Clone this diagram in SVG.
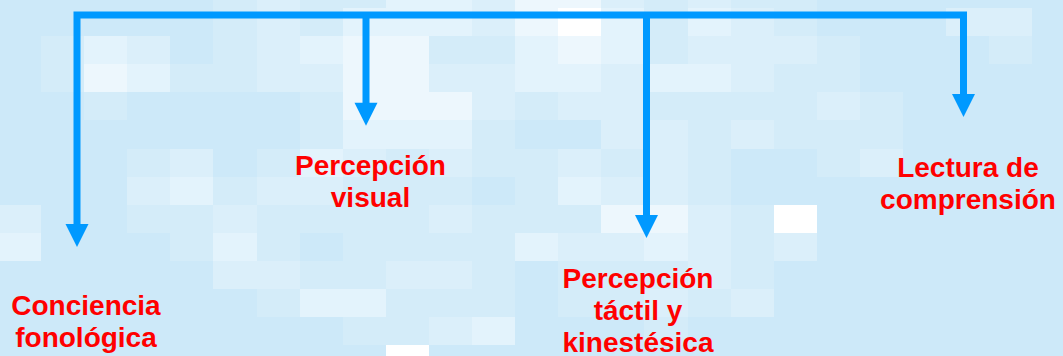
<svg xmlns="http://www.w3.org/2000/svg" width="1063" height="356" viewBox="0 0 1063 356">
<style>
.bg{fill:#cde9f9}
.a{fill:#d4ecf9}.b{fill:#dbeffa}.c{fill:#e3f3fc}.d{fill:#edf7fd}.e{fill:#ffffff}
#tiles rect{shape-rendering:crispEdges}
.ln{fill:none;stroke:#0099ff;stroke-width:7;stroke-linejoin:miter}
.hd{fill:#0099ff}
.lb{font-family:"Liberation Sans",Arial,sans-serif;font-weight:bold;font-size:28px;fill:#ff0000;text-anchor:middle}
</style>
<rect class="bg" x="0" y="0" width="1063" height="356"/>
<g id="tiles">
<!-- row -1 -->
<rect class="a" x="213" y="0" width="44" height="8"/><rect class="b" x="257" y="0" width="43" height="8"/><rect class="a" x="300" y="0" width="43" height="8"/><rect class="a" x="343" y="0" width="43" height="8"/><rect class="c" x="386" y="0" width="43" height="8"/><rect class="c" x="429" y="0" width="43" height="8"/><rect class="b" x="472" y="0" width="43" height="8"/><rect class="d" x="515" y="0" width="43" height="8"/><rect class="d" x="558" y="0" width="43" height="8"/><rect class="b" x="601" y="0" width="43" height="8"/><rect class="a" x="644" y="0" width="44" height="8"/><rect class="b" x="688" y="0" width="43" height="8"/><rect class="a" x="731" y="0" width="43" height="8"/><rect class="a" x="774" y="0" width="43" height="8"/>
<!-- row 0 -->
<rect class="a" x="213" y="8" width="44" height="28"/><rect class="b" x="257" y="8" width="43" height="28"/><rect class="a" x="300" y="8" width="43" height="28"/><rect class="c" x="343" y="8" width="43" height="28"/><rect class="c" x="386" y="8" width="43" height="28"/><rect class="c" x="429" y="8" width="43" height="28"/><rect class="b" x="472" y="8" width="43" height="28"/><rect class="d" x="515" y="8" width="43" height="28"/><rect class="e" x="558" y="8" width="43" height="28"/><rect class="c" x="601" y="8" width="43" height="28"/><rect class="a" x="644" y="8" width="44" height="28"/><rect class="c" x="688" y="8" width="43" height="28"/><rect class="b" x="731" y="8" width="43" height="28"/><rect class="a" x="774" y="8" width="43" height="28"/><rect class="b" x="946" y="8" width="43" height="28"/><rect class="b" x="989" y="8" width="43" height="28"/>
<!-- row 1 -->
<rect class="a" x="41" y="36" width="43" height="28"/><rect class="c" x="84" y="36" width="43" height="28"/><rect class="b" x="127" y="36" width="43" height="28"/><rect class="a" x="213" y="36" width="44" height="28"/><rect class="b" x="257" y="36" width="43" height="28"/><rect class="c" x="300" y="36" width="43" height="28"/><rect class="d" x="343" y="36" width="43" height="28"/><rect class="d" x="386" y="36" width="43" height="28"/><rect class="a" x="429" y="36" width="43" height="28"/><rect class="a" x="472" y="36" width="43" height="28"/><rect class="c" x="515" y="36" width="43" height="28"/><rect class="d" x="558" y="36" width="43" height="28"/><rect class="c" x="601" y="36" width="43" height="28"/><rect class="a" x="644" y="36" width="44" height="28"/><rect class="b" x="688" y="36" width="43" height="28"/><rect class="b" x="731" y="36" width="43" height="28"/><rect class="b" x="774" y="36" width="43" height="28"/><rect class="a" x="817" y="36" width="43" height="28"/><rect class="a" x="989" y="36" width="43" height="28"/>
<!-- row 2 -->
<rect class="a" x="41" y="64" width="43" height="28"/><rect class="d" x="84" y="64" width="43" height="28"/><rect class="c" x="127" y="64" width="43" height="28"/><rect class="a" x="170" y="64" width="43" height="28"/><rect class="a" x="213" y="64" width="44" height="28"/><rect class="b" x="257" y="64" width="43" height="28"/><rect class="b" x="300" y="64" width="43" height="28"/><rect class="d" x="343" y="64" width="43" height="28"/><rect class="d" x="386" y="64" width="43" height="28"/><rect class="b" x="429" y="64" width="43" height="28"/><rect class="b" x="472" y="64" width="43" height="28"/><rect class="c" x="515" y="64" width="43" height="28"/><rect class="c" x="558" y="64" width="43" height="28"/><rect class="b" x="601" y="64" width="43" height="28"/><rect class="c" x="644" y="64" width="44" height="28"/><rect class="c" x="688" y="64" width="43" height="28"/><rect class="b" x="731" y="64" width="43" height="28"/><rect class="a" x="774" y="64" width="43" height="28"/><rect class="a" x="817" y="64" width="43" height="28"/>
<!-- row 3 -->
<rect class="a" x="84" y="92" width="43" height="28"/><rect class="a" x="300" y="92" width="43" height="28"/><rect class="d" x="343" y="92" width="43" height="28"/><rect class="d" x="386" y="92" width="43" height="28"/><rect class="d" x="429" y="92" width="43" height="28"/><rect class="b" x="472" y="92" width="43" height="28"/><rect class="a" x="515" y="92" width="43" height="28"/><rect class="b" x="558" y="92" width="43" height="28"/><rect class="b" x="601" y="92" width="43" height="28"/><rect class="a" x="644" y="92" width="44" height="28"/><rect class="a" x="688" y="92" width="43" height="28"/><rect class="a" x="731" y="92" width="43" height="28"/><rect class="a" x="774" y="92" width="43" height="28"/><rect class="b" x="817" y="92" width="43" height="28"/><rect class="a" x="860" y="92" width="43" height="28"/>
<!-- row 4 -->
<rect class="a" x="300" y="120" width="43" height="29"/><rect class="c" x="343" y="120" width="43" height="29"/><rect class="c" x="386" y="120" width="43" height="29"/><rect class="c" x="429" y="120" width="43" height="29"/><rect class="a" x="472" y="120" width="43" height="29"/><rect class="b" x="601" y="120" width="43" height="29"/><rect class="b" x="644" y="120" width="44" height="29"/><rect class="a" x="688" y="120" width="43" height="29"/><rect class="b" x="731" y="120" width="43" height="29"/><rect class="a" x="774" y="120" width="43" height="29"/><rect class="a" x="817" y="120" width="43" height="29"/><rect class="a" x="860" y="120" width="43" height="29"/>
<!-- row 5 -->
<rect class="a" x="127" y="149" width="43" height="28"/><rect class="b" x="170" y="149" width="43" height="28"/><rect class="a" x="257" y="149" width="43" height="28"/><rect class="c" x="300" y="149" width="43" height="28"/><rect class="b" x="343" y="149" width="43" height="28"/><rect class="a" x="386" y="149" width="43" height="28"/><rect class="b" x="429" y="149" width="43" height="28"/><rect class="a" x="472" y="149" width="43" height="28"/><rect class="a" x="515" y="149" width="43" height="28"/><rect class="b" x="558" y="149" width="43" height="28"/><rect class="a" x="601" y="149" width="43" height="28"/><rect class="b" x="644" y="149" width="44" height="28"/><rect class="a" x="688" y="149" width="43" height="28"/><rect class="a" x="817" y="149" width="43" height="28"/><rect class="b" x="860" y="149" width="43" height="28"/>
<!-- row 6 -->
<rect class="b" x="127" y="177" width="43" height="28"/><rect class="c" x="170" y="177" width="43" height="28"/><rect class="a" x="213" y="177" width="44" height="28"/><rect class="b" x="257" y="177" width="43" height="28"/><rect class="b" x="300" y="177" width="43" height="28"/><rect class="a" x="343" y="177" width="43" height="28"/><rect class="a" x="386" y="177" width="43" height="28"/><rect class="a" x="429" y="177" width="43" height="28"/><rect class="a" x="515" y="177" width="43" height="28"/><rect class="c" x="558" y="177" width="43" height="28"/><rect class="b" x="601" y="177" width="43" height="28"/><rect class="b" x="644" y="177" width="44" height="28"/><rect class="a" x="688" y="177" width="43" height="28"/>
<!-- row 7 -->
<rect class="b" x="0" y="205" width="41" height="28"/><rect class="a" x="127" y="205" width="43" height="28"/><rect class="a" x="170" y="205" width="43" height="28"/><rect class="b" x="213" y="205" width="44" height="28"/><rect class="a" x="257" y="205" width="43" height="28"/><rect class="a" x="300" y="205" width="43" height="28"/><rect class="a" x="343" y="205" width="43" height="28"/><rect class="a" x="386" y="205" width="43" height="28"/><rect class="b" x="429" y="205" width="43" height="28"/><rect class="a" x="472" y="205" width="43" height="28"/><rect class="a" x="515" y="205" width="43" height="28"/><rect class="a" x="558" y="205" width="43" height="28"/><rect class="d" x="601" y="205" width="43" height="28"/><rect class="d" x="644" y="205" width="44" height="28"/><rect class="b" x="688" y="205" width="43" height="28"/><rect class="a" x="731" y="205" width="43" height="28"/><rect class="e" x="774" y="205" width="43" height="28"/>
<!-- row 8 -->
<rect class="c" x="0" y="233" width="41" height="28"/><rect class="a" x="170" y="233" width="43" height="28"/><rect class="c" x="213" y="233" width="44" height="28"/><rect class="a" x="257" y="233" width="43" height="28"/><rect class="a" x="343" y="233" width="43" height="28"/><rect class="a" x="386" y="233" width="43" height="28"/><rect class="a" x="429" y="233" width="43" height="28"/><rect class="a" x="472" y="233" width="43" height="28"/><rect class="c" x="515" y="233" width="43" height="28"/><rect class="b" x="558" y="233" width="43" height="28"/><rect class="b" x="601" y="233" width="43" height="28"/><rect class="c" x="644" y="233" width="44" height="28"/><rect class="b" x="688" y="233" width="43" height="28"/><rect class="a" x="731" y="233" width="43" height="28"/><rect class="b" x="774" y="233" width="43" height="28"/>
<!-- row 9 -->
<rect class="b" x="213" y="261" width="44" height="28"/><rect class="b" x="257" y="261" width="43" height="28"/><rect class="a" x="300" y="261" width="43" height="28"/><rect class="a" x="343" y="261" width="43" height="28"/><rect class="b" x="386" y="261" width="43" height="28"/><rect class="b" x="429" y="261" width="43" height="28"/><rect class="a" x="472" y="261" width="43" height="28"/><rect class="a" x="558" y="261" width="43" height="28"/><rect class="a" x="601" y="261" width="43" height="28"/><rect class="a" x="644" y="261" width="44" height="28"/><rect class="b" x="688" y="261" width="43" height="28"/><rect class="a" x="731" y="261" width="43" height="28"/>
<!-- row 10 -->
<rect class="a" x="257" y="289" width="43" height="28"/><rect class="c" x="300" y="289" width="43" height="28"/><rect class="c" x="343" y="289" width="43" height="28"/><rect class="a" x="386" y="289" width="43" height="28"/><rect class="a" x="429" y="289" width="43" height="28"/><rect class="a" x="472" y="289" width="43" height="28"/><rect class="a" x="558" y="289" width="43" height="28"/><rect class="a" x="601" y="289" width="43" height="28"/><rect class="b" x="644" y="289" width="44" height="28"/><rect class="a" x="688" y="289" width="43" height="28"/><rect class="b" x="731" y="289" width="43" height="28"/>
<!-- row 11 -->
<rect class="a" x="343" y="317" width="43" height="28"/><rect class="a" x="386" y="317" width="43" height="28"/><rect class="b" x="429" y="317" width="43" height="28"/><rect class="c" x="472" y="317" width="43" height="28"/><rect class="a" x="644" y="317" width="44" height="28"/>
<!-- row 12 -->
<rect class="e" x="386" y="345" width="43" height="11"/>
</g>
<g id="connectors">
<path class="ln" d="M77,226 V15 H963.5 V96"/>
<path class="ln" d="M366,15 V105"/>
<path class="ln" d="M646.5,15 V217"/>
<polygon class="hd" points="65.5,224 88.5,224 77,247"/>
<polygon class="hd" points="354.5,102.7 377.5,102.7 366,125.7"/>
<polygon class="hd" points="635,215 658,215 646.5,238"/>
<polygon class="hd" points="952,94 975,94 963.5,117"/>
</g>
<g id="node-conciencia">
<text class="lb" x="86" y="315">Conciencia</text>
<text class="lb" x="86" y="347">fonológica</text>
</g>
<g id="node-visual">
<text class="lb" x="370.5" y="175">Percepción</text>
<text class="lb" x="370.5" y="207">visual</text>
</g>
<g id="node-tactil">
<text class="lb" x="638" y="288">Percepción</text>
<text class="lb" x="638" y="320">táctil y</text>
<text class="lb" x="638" y="352">kinestésica</text>
</g>
<g id="node-lectura">
<text class="lb" x="968" y="177">Lectura de</text>
<text class="lb" x="968" y="209">comprensión</text>
</g>
</svg>
